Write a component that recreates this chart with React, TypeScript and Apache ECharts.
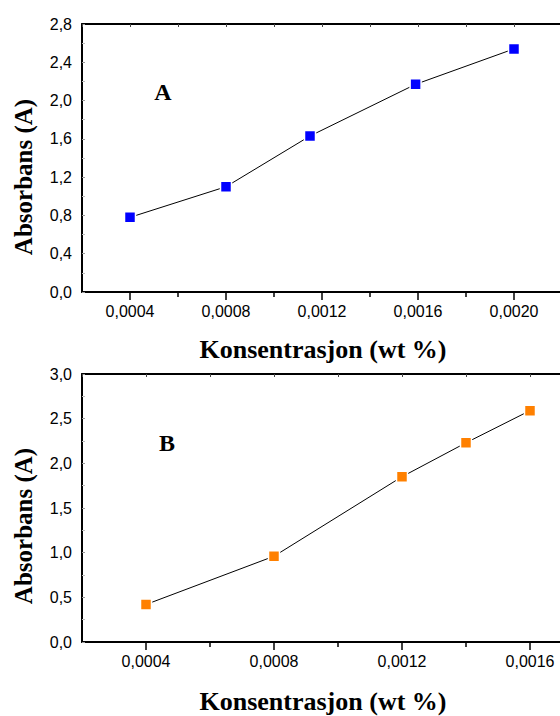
import React, { useEffect, useRef } from "react";
import * as echarts from "echarts";

// Panel A
const xA = [0.0004, 0.0008, 0.00115, 0.00159, 0.002];
const yA = [0.78, 1.1, 1.63, 2.17, 2.54];
const majorTicksA = [0.0004, 0.0008, 0.0012, 0.0016, 0.002];
const minorTicksA = [0.0006, 0.001, 0.0014, 0.0018];
// Panel B
const xB = [0.0004, 0.0008, 0.0012, 0.0014, 0.0016];
const yB = [0.42, 0.96, 1.85, 2.23, 2.59];
const majorTicksB = [0.0004, 0.0008, 0.0012, 0.0016];
const minorTicksB = [0.0006, 0.001, 0.0014];

const yTitle = "Absorbans (A)";
const xTitle = "Konsentrasjon (wt %)";
const panelLabels = ["A", "B"];

const fmtX = (v: number) => v.toFixed(4).replace(".", ",");
const fmtY = (v: number) => v.toFixed(1).replace(".", ",");

const sansFont = "Liberation Sans, Arial, sans-serif";
const serifFont = "Liberation Serif, Times New Roman, serif";

export default function App() {
  const ref = useRef<HTMLDivElement>(null);
  useEffect(() => {
    if (!ref.current) return;
    const chart = echarts.init(ref.current, undefined, { renderer: "svg" });
    const gA = { left: 82, top: 24, width: 480, height: 268, containLabel: false, outerBoundsMode: "none" };
    const gB = { left: 82, top: 374, width: 512, height: 268, containLabel: false, outerBoundsMode: "none" };

    const mainX = (gridIndex: number, max: number, majors: number[]) => ({
      type: "value",
      gridIndex,
      position: "bottom",
      min: 0.0002,
      max,
      interval: 0.0002,
      splitLine: { show: false },
      axisLine: { show: true, lineStyle: { color: "#000", width: 2 } },
      axisTick: { show: true, customValues: majors, length: 8, lineStyle: { color: "#000", width: 1.5 } },
      axisLabel: {
        show: true,
        customValues: majors,
        formatter: fmtX,
        color: "#000",
        fontFamily: sansFont,
        fontSize: 16,
        margin: 11,
      },
    });
    const topX = (gridIndex: number, max: number) => ({
      type: "value",
      gridIndex,
      position: "top",
      min: 0.0002,
      max,
      interval: 0.0002,
      splitLine: { show: false },
      axisLine: { show: true, lineStyle: { color: "#000", width: 2 } },
      axisTick: { show: true, inside: true, length: 3, lineStyle: { color: "#444", width: 1 } },
      axisLabel: { show: false },
    });
    const minorX = (gridIndex: number, max: number, minors: number[]) => ({
      type: "value",
      gridIndex,
      position: "bottom",
      min: 0.0002,
      max,
      interval: 0.0002,
      splitLine: { show: false },
      axisLine: { show: false },
      axisTick: { show: true, customValues: minors, length: 5, lineStyle: { color: "#000", width: 1.5 } },
      axisLabel: { show: false },
    });
    const mainY = (gridIndex: number, max: number, interval: number) => ({
      type: "value",
      gridIndex,
      min: 0,
      max,
      interval,
      splitLine: { show: false },
      axisLine: { show: true, lineStyle: { color: "#000", width: 2 } },
      axisTick: { show: true, inside: true, length: 3, lineStyle: { color: "#999", width: 1 } },
      minorTick: { show: true, splitNumber: 2, length: 3, lineStyle: { color: "#bbb", width: 1 } },
      axisLabel: {
        formatter: fmtY,
        color: "#000",
        fontFamily: sansFont,
        fontSize: 16,
        margin: 10,
      },
    });
    const hiddenY = (gridIndex: number, max: number) => ({
      type: "value",
      gridIndex,
      min: 0,
      max,
      show: false,
      splitLine: { show: false },
    });

    const series = (xs: number[], ys: number[], xi: number, yi: number, color: string) => ({
      type: "line",
      xAxisIndex: xi,
      yAxisIndex: yi,
      data: xs.map((x, i) => [x, ys[i]]),
      symbol: "rect",
      symbolSize: 11,
      showSymbol: true,
      itemStyle: { color, borderColor: "#fff", borderWidth: 1.5 },
      lineStyle: { color: "#000", width: 1 },
      z: 5,
    });

    const titleText = (text: string, x: number, y: number, size: number, rotation = 0) => ({
      type: "text",
      x,
      y,
      rotation,
      style: {
        text,
        x: 0,
        y: 0,
        align: "center",
        verticalAlign: "middle",
        fill: "#000",
        font: `bold ${size}px ${serifFont}`,
      },
      z: 10,
    });

    chart.setOption({
      animation: false,
      backgroundColor: "#fff",
      grid: [gA, { ...gA }, gB, { ...gB }],
      xAxis: [
        mainX(0, 0.0022, majorTicksA),
        topX(0, 0.0022),
        minorX(1, 0.0022, minorTicksA),
        mainX(2, 0.0018, majorTicksB),
        topX(2, 0.0018),
        minorX(3, 0.0018, minorTicksB),
      ],
      yAxis: [mainY(0, 2.8, 0.4), hiddenY(1, 2.8), mainY(2, 3.0, 0.5), hiddenY(3, 3.0)],
      series: [series(xA, yA, 0, 0, "#0000ff"), series(xB, yB, 3, 2, "#ff8000")],
      graphic: [
        titleText(yTitle, 23, 177, 25, Math.PI / 2),
        titleText(yTitle, 23, 526, 25, Math.PI / 2),
        titleText(xTitle, 323, 349, 26),
        titleText(xTitle, 323, 701, 26),
        titleText(panelLabels[0], 163, 92, 24),
        titleText(panelLabels[1], 167, 443, 24),
      ],
    });
    return () => chart.dispose();
  }, []);
  return (
    <div style={{ position: "fixed", left: 0, top: 0, width: 560, height: 716, overflow: "hidden", background: "#fff" }}>
      <div ref={ref} style={{ width: 560, height: 716 }} />
    </div>
  );
}
